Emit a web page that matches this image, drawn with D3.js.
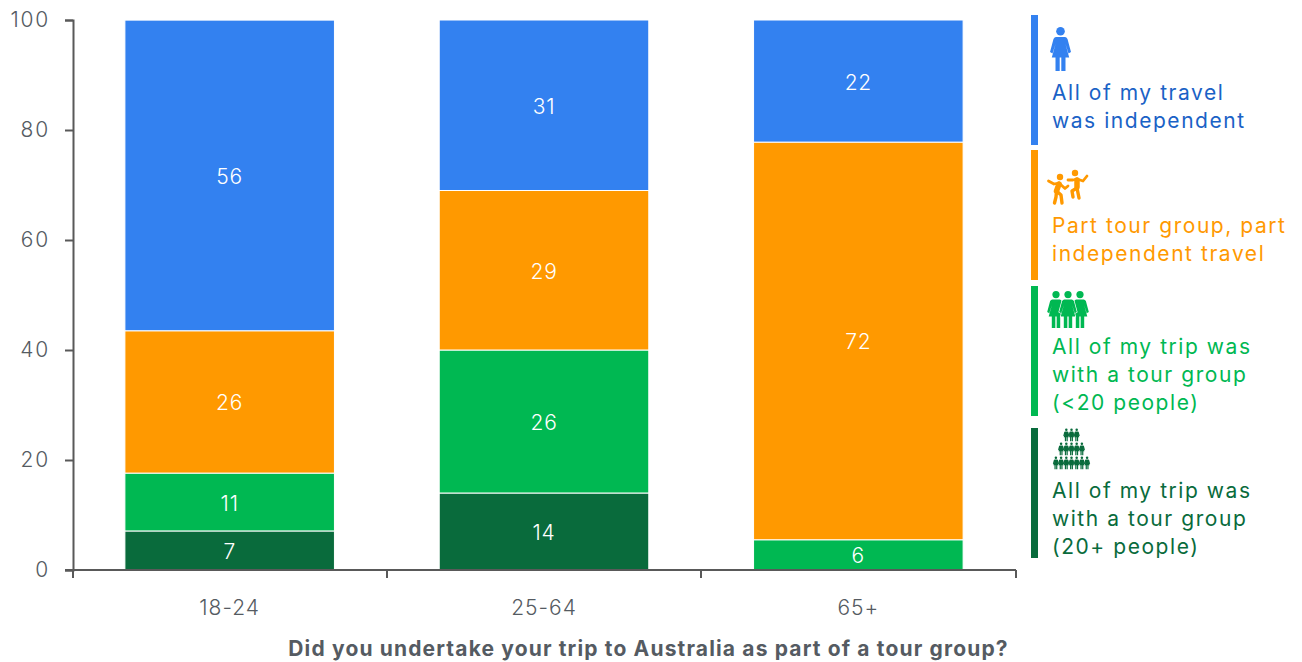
<!DOCTYPE html>
<html><head><meta charset="utf-8">
<script src="https://cdn.jsdelivr.net/npm/d3@7"></script>
<style>
html,body{margin:0;padding:0;background:#fff;overflow:hidden}
text{font-family:"Inter",sans-serif;}
</style></head><body><svg id="c" width="1302" height="662"></svg>
<script>
const categories = ["18-24","25-64","65+"];
const seriesNames = ["tour20plus","tourUnder20","part","independent"];
const tour20plus = [7.1,14,0];
const tourUnder20 = [10.52,26,5.5];
const part = [25.88,29,72.3];
const independent = [56.48,31,22.2];
const yTicks = [0,20,40,60,80,100];
const xTitle = "Did you undertake your trip to Australia as part of a tour group?";
const legendLabels = [
  ["All of my travel","was independent"],
  ["Part tour group, part","independent travel"],
  ["All of my trip was","with a tour group","(<20 people)"],
  ["All of my trip was","with a tour group","(20+ people)"]
];
const barColors = {tour20plus:"#096b3c",tourUnder20:"#00b852",part:"#ff9900",independent:"#3381f0"};
const legendColors = ["#3381f0","#ff9900","#00b852","#096b3c"];
const legendTextColors = ["#1a62c6","#ff9900","#00b852","#096b3c"];
const seriesData = {tour20plus,tourUnder20,part,independent};

const svg = d3.select("#c");
const axisCol = "#595959", fs = 21;
const x = d3.scaleBand().domain(categories).range([72.5,1015.5]).paddingInner(1/3).paddingOuter(1/6);
const y = d3.scaleLinear().domain([0,100]).range([570,20]);
const table = categories.map((c,i)=>{const o={cat:c};seriesNames.forEach(s=>o[s]=seriesData[s][i]);return o;});
const stacked = d3.stack().keys(seriesNames)(table);
const segs = d => d.map((v,i)=>({k:d.key,v,val:seriesData[d.key][i]})).filter(e=>e.val>0);

const layer = svg.selectAll("g.s").data(stacked).join("g").attr("class","s");
layer.selectAll("rect").data(segs).join("rect")
  .attr("x",d=>x(d.v.data.cat)).attr("width",x.bandwidth())
  .attr("y",d=>y(d.v[1])).attr("height",d=>y(d.v[0])-y(d.v[1]))
  .attr("fill",d=>barColors[d.k]).attr("stroke","#fff").attr("stroke-width",1);
layer.selectAll("text").data(segs).join("text")
  .attr("x",d=>x(d.v.data.cat)+x.bandwidth()/2)
  .attr("y",d=>(y(d.v[0])+y(d.v[1]))/2+8.5)
  .attr("text-anchor","middle").attr("fill","#fff").attr("font-size",fs).attr("font-weight",300).attr("letter-spacing",0.8)
  .text(d=>Math.round(d.val));

const yAxis = svg.append("g").attr("transform","translate(73,0)")
  .call(d3.axisLeft(y).tickValues(yTicks).tickSize(8).tickPadding(15));
const xAxis = svg.append("g").attr("transform","translate(0,570)")
  .call(d3.axisBottom(x).tickSize(0).tickPadding(30));
xAxis.select(".domain").remove();
const edges = [73,387,701,1016];
svg.append("g").selectAll("line").data(edges).join("line")
  .attr("x1",d=>d).attr("x2",d=>d).attr("y1",570).attr("y2",578)
  .attr("stroke",axisCol).attr("stroke-width",2);
svg.append("line").attr("x1",65).attr("x2",1016).attr("y1",570).attr("y2",570).attr("stroke",axisCol).attr("stroke-width",2);
yAxis.selectAll("path,line").attr("stroke",axisCol).attr("stroke-width",2);
svg.selectAll(".tick text").attr("font-size",fs).attr("font-family","Inter").attr("font-weight",300).attr("fill","#555b62");
yAxis.selectAll(".tick text").attr("letter-spacing",1.8);
xAxis.selectAll(".tick text").attr("letter-spacing",1);

svg.append("text").attr("x",648.5).attr("y",656).attr("text-anchor","middle")
  .attr("font-size",fs).attr("font-weight",700).attr("fill","#555b62").attr("letter-spacing",1.15).text(xTitle);

// legend
const legendTop = [15,150,286,428], legendH = 130;
const firstBase = [100,233,354,498];
const lg = svg.append("g");
legendLabels.forEach((lines,i)=>{
  lg.append("rect").attr("x",1031).attr("y",legendTop[i]).attr("width",7).attr("height",legendH).attr("fill",legendColors[i]);
  lines.forEach((t,j)=>lg.append("text").attr("x",1052).attr("y",firstBase[i]+j*27.9)
    .attr("font-size",fs).attr("font-weight",400).attr("letter-spacing",1.55).attr("fill",legendTextColors[i]).text(t));
});
// icons
const woman = "M-4.5 10L4.5 10Q6 10 7 12L10.5 25L8 26.5L5 17L8.7 30.5L5 30.5L5 44L0.8 44L0.8 30.5L-0.8 30.5L-0.8 44L-5 44L-5 30.5L-8.7 30.5L-5 17L-8 26.5L-10.5 25L-7 12Q-6 10-4.5 10Z";
function person(cx,top,s,col,outline){
  const g = lg.append("g").attr("transform",`translate(${cx},${top}) scale(${s})`).attr("fill",col);
  g.append("circle").attr("cy",4.3).attr("r",4.3);
  const p = g.append("path").attr("d",woman);
  if(outline) p.attr("stroke","#fff").attr("stroke-width",outline).attr("paint-order","stroke");
}
person(1060.5,27,1,legendColors[0]);
[1056,1080].forEach(c=>person(c,291,0.84,legendColors[2]));
person(1068,291,0.84,legendColors[2],1.6);
[[3,428.5],[5,442.5],[7,456.5]].forEach(([n,t])=>{
  d3.range(n).forEach(k=>person(1071.5+(k-(n-1)/2)*5.2,t,0.29,legendColors[3]));
});
// dancers
const dance = lg.append("g").attr("fill","none").attr("stroke",legendColors[1]).attr("stroke-linejoin","round").attr("stroke-linecap","round");
dance.append("path").attr("stroke-width",2.8).attr("d","M1048.5 181L1054 184L1059 183 M1059 183L1065 188.5L1068 186 M1068 180L1073 180L1077 179 M1077 179L1083 181L1087 176");
dance.append("path").attr("stroke-width",5.5).attr("d","M1059 184L1056.5 191 M1077 180L1077 187");
dance.append("path").attr("stroke-width",3.4).attr("d","M1056.5 191L1061 195L1062 203 M1056.5 191L1056 197L1054.5 203 M1077 188L1079 198 M1077 188L1072 191L1073 197");
dance.append("g").attr("fill",legendColors[1]).attr("stroke","none").selectAll("circle").data([[1060,177],[1075,173]]).join("circle")
  .attr("cx",d=>d[0]).attr("cy",d=>d[1]).attr("r",3.2);
</script></body></html>
